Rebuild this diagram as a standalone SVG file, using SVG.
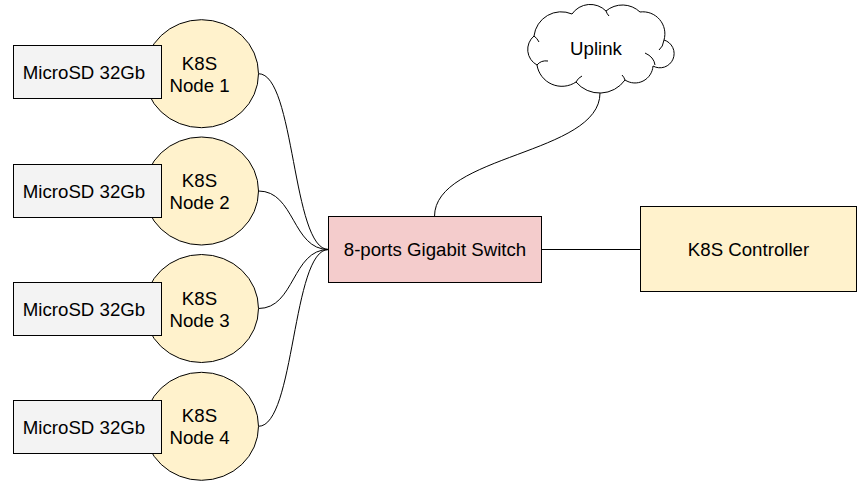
<svg xmlns="http://www.w3.org/2000/svg" width="867" height="494" viewBox="0 0 867 494">
<style>
  text{font-family:"Liberation Sans",Arial,sans-serif;font-size:18.67px;fill:#000;text-anchor:middle}
  .sd{fill:#f3f3f3;stroke:#000;stroke-width:1}
  .k8{fill:#fff2cc;stroke:#000;stroke-width:1}
  .sw{fill:#f4cccc;stroke:#000;stroke-width:1}
  .ln{fill:none;stroke:#000;stroke-width:1}
</style>
<rect width="867" height="494" fill="#fff"/>
<g id="connectors">
  <path class="ln" d="M258.5,73.7 C295,73.7 292,249.5 328.5,249.5"/>
  <path class="ln" d="M258.5,191 C295,191 292,249.5 328.5,249.5"/>
  <path class="ln" d="M258.5,308.5 C295,308.5 292,249.5 328.5,249.5"/>
  <path class="ln" d="M258.5,426.3 C295,426.3 292,249.5 328.5,249.5"/>
  <path class="ln" d="M434.5,216.5 C434.5,154.5 600,154.5 600,93"/>
  <path class="ln" d="M541.5,249.5 L640.5,249.5"/>
</g>
<g id="node1">
  <ellipse class="k8" cx="201.5" cy="73.7" rx="57" ry="54"/>
  <rect class="sd" x="13.5" y="45.5" width="148" height="53"/>
  <text x="84" y="78.7">MicroSD 32Gb</text>
  <text x="199.5" y="69.7">K8S</text>
  <text x="199.5" y="91.7">Node 1</text>
</g>
<g id="node2">
  <ellipse class="k8" cx="201.5" cy="191" rx="57" ry="54"/>
  <rect class="sd" x="13.5" y="164.5" width="148" height="53"/>
  <text x="84" y="197.7">MicroSD 32Gb</text>
  <text x="199.5" y="187">K8S</text>
  <text x="199.5" y="209">Node 2</text>
</g>
<g id="node3">
  <ellipse class="k8" cx="201.5" cy="308.5" rx="57" ry="54"/>
  <rect class="sd" x="13.5" y="282.5" width="148" height="53"/>
  <text x="84" y="315.7">MicroSD 32Gb</text>
  <text x="199.5" y="304.5">K8S</text>
  <text x="199.5" y="326.5">Node 3</text>
</g>
<g id="node4">
  <ellipse class="k8" cx="201.5" cy="426.3" rx="57" ry="54"/>
  <rect class="sd" x="13.5" y="400.5" width="148" height="53"/>
  <text x="84" y="433.7">MicroSD 32Gb</text>
  <text x="199.5" y="422.3">K8S</text>
  <text x="199.5" y="444.3">Node 4</text>
</g>
<g id="switch">
  <rect class="sw" x="328.5" y="216.5" width="213" height="66"/>
  <text x="435" y="256">8-ports Gigabit Switch</text>
</g>
<g id="controller">
  <rect class="k8" x="640.5" y="206.5" width="216" height="85"/>
  <text x="748.5" y="255.5">K8S Controller</text>
</g>
<g id="uplink">
  <path fill="#fff" stroke="#000" stroke-width="1" d="M534,36 A27.4,27.4 0 0 1 572,14 A22.2,22.2 0 0 1 606,11 A25.5,25.5 0 0 1 640,12 A22,22 0 0 1 664,40 A14.2,14.2 0 1 1 653,66 A18.1,18.1 0 0 1 625,80 A31,31 0 0 1 576,82 A25.2,25.2 0 0 1 537,65 A17.6,17.6 0 0 1 534,36 Z"/>
  <path class="ln" d="M537,65 Q541,60 548,61"/>
  <path class="ln" d="M645,53 Q654,57 655,65"/>
  <path class="ln" d="M664,40 Q663,47 659,50"/>
  <path class="ln" d="M576,82 Q578,78 582,76"/>
  <path class="ln" d="M625,80 Q624,77 622,75"/>
  <path class="ln" d="M606,11 Q607,14 609,16"/>
  <path class="ln" d="M534,36 Q537,38 539,42"/>
  <text x="596" y="55">Uplink</text>
</g>
</svg>
